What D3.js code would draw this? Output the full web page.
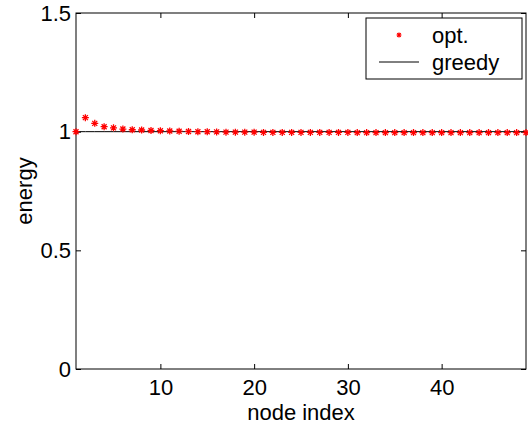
<!DOCTYPE html>
<html>
<head>
<meta charset="utf-8">
<script src="https://cdn.jsdelivr.net/npm/d3@7"></script>
<style>
  body { margin: 0; background: #fff; }
  svg { display: block; font-family: "Liberation Sans", Arial, Helvetica, sans-serif; }
  .axis text { font-size: 22px; fill: #000; }
  .axis line { stroke: #000; }
  .lbl { font-size: 22px; fill: #000; }
</style>
</head>
<body>
<svg id="chart" width="528" height="424"></svg>
<script>
'use strict';

// node index 1..49
const nodes = [1, 2, 3, 4, 5, 6, 7, 8, 9, 10, 11, 12, 13, 14, 15, 16, 17, 18, 19, 20,
  21, 22, 23, 24, 25, 26, 27, 28, 29, 30, 31, 32, 33, 34, 35, 36, 37, 38, 39, 40,
  41, 42, 43, 44, 45, 46, 47, 48, 49];

// red stars
const optEnergy = [1.000, 1.059, 1.035, 1.021, 1.016, 1.011, 1.008, 1.007, 1.005, 1.004,
  1.003, 1.002, 1.001, 1.000, 1.000, 0.999, 0.998, 0.998, 0.998, 0.998,
  0.997, 0.997, 0.997, 0.997, 0.997, 0.997, 0.997, 0.997, 0.997, 0.997,
  0.996, 0.996, 0.996, 0.996, 0.996, 0.996, 0.996, 0.996, 0.996, 0.996,
  0.996, 0.996, 0.996, 0.996, 0.996, 0.996, 0.996, 0.996, 0.996];

// black line
const greedyEnergy = [1, 1, 1, 1, 1, 1, 1, 1, 1, 1, 1, 1, 1, 1, 1, 1, 1, 1, 1, 1,
  1, 1, 1, 1, 1, 1, 1, 1, 1, 1, 1, 1, 1, 1, 1, 1, 1, 1, 1, 1,
  1, 1, 1, 1, 1, 1, 1, 1, 1];

const xTicks = [10, 20, 30, 40];
const yTicks = [0, 0.5, 1, 1.5];
const legendNames = ['opt.', 'greedy'];

const svg = d3.select('#chart');
const pLeft = 76, pRight = 526, pTop = 13, pBottom = 369;

const x = d3.scaleLinear().domain([1, 49]).range([pLeft, pRight]);
const y = d3.scaleLinear().domain([0, 1.5]).range([pBottom, pTop]);

const star = 'M-3.5,0H3.5M0,-3.5V3.5M-2.5,-2.5L2.5,2.5M-2.5,2.5L2.5,-2.5';

// axes, ticks pointing inwards like matlab
svg.append('g').attr('class', 'axis')
   .attr('transform', `translate(0,${pBottom})`)
   .call(d3.axisBottom(x).tickValues(xTicks).tickSize(-5).tickPadding(10))
   .call(g => g.select('.domain').remove());
svg.append('g').attr('class', 'axis')
   .attr('transform', `translate(0,${pTop})`)
   .call(d3.axisTop(x).tickValues(xTicks).tickSize(-5).tickFormat(''))
   .call(g => g.select('.domain').remove());
svg.append('g').attr('class', 'axis')
   .attr('transform', `translate(${pLeft},0)`)
   .call(d3.axisLeft(y).tickValues(yTicks).tickSize(-5).tickPadding(5).tickFormat(d => String(d)))
   .call(g => g.select('.domain').remove());
svg.append('g').attr('class', 'axis')
   .attr('transform', `translate(${pRight},0)`)
   .call(d3.axisRight(y).tickValues(yTicks).tickSize(-5).tickFormat(''))
   .call(g => g.select('.domain').remove());

svg.append('rect')
   .attr('x', pLeft).attr('y', pTop)
   .attr('width', pRight - pLeft).attr('height', pBottom - pTop)
   .attr('fill', 'none').attr('stroke', '#000').attr('stroke-width', 1);

// greedy line
svg.append('path')
   .datum(nodes.map((n, i) => [n, greedyEnergy[i]]))
   .attr('fill', 'none').attr('stroke', '#000').attr('stroke-width', 1)
   .attr('d', d3.line().x(d => x(d[0])).y(d => y(d[1])));

// opt stars
svg.append('g')
   .selectAll('path')
   .data(nodes)
   .join('path')
   .attr('transform', (d, i) => `translate(${x(d)},${y(optEnergy[i])})`)
   .attr('d', star)
   .attr('fill', 'none').attr('stroke', '#ff0000').attr('stroke-width', 1.3);

// axis labels
svg.append('text').attr('class', 'lbl')
   .attr('x', (pLeft + pRight) / 2).attr('y', 420)
   .attr('text-anchor', 'middle')
   .text('node index');
svg.append('text').attr('class', 'lbl')
   .attr('transform', `translate(32,${(pTop + pBottom) / 2}) rotate(-90)`)
   .attr('text-anchor', 'middle')
   .text('energy');

// legend
const leg = svg.append('g');
leg.append('rect')
   .attr('x', 366).attr('y', 18).attr('width', 156).attr('height', 61)
   .attr('fill', '#fff').attr('stroke', '#000').attr('stroke-width', 1);
leg.append('path')
   .attr('transform', 'translate(399,35)')
   .attr('d', 'M-2.5,0H2.5M0,-2.5V2.5M-1.8,-1.8L1.8,1.8M-1.8,1.8L1.8,-1.8')
   .attr('fill', 'none').attr('stroke', '#ff0000').attr('stroke-width', 1.2);
leg.append('line')
   .attr('x1', 379).attr('x2', 419).attr('y1', 62).attr('y2', 62)
   .attr('stroke', '#000').attr('stroke-width', 1);
leg.selectAll('text.leg')
   .data(legendNames)
   .join('text')
   .attr('class', 'lbl leg')
   .attr('x', 432)
   .attr('y', (d, i) => 43 + i * 27)
   .text(d => d);
</script>
</body>
</html>
